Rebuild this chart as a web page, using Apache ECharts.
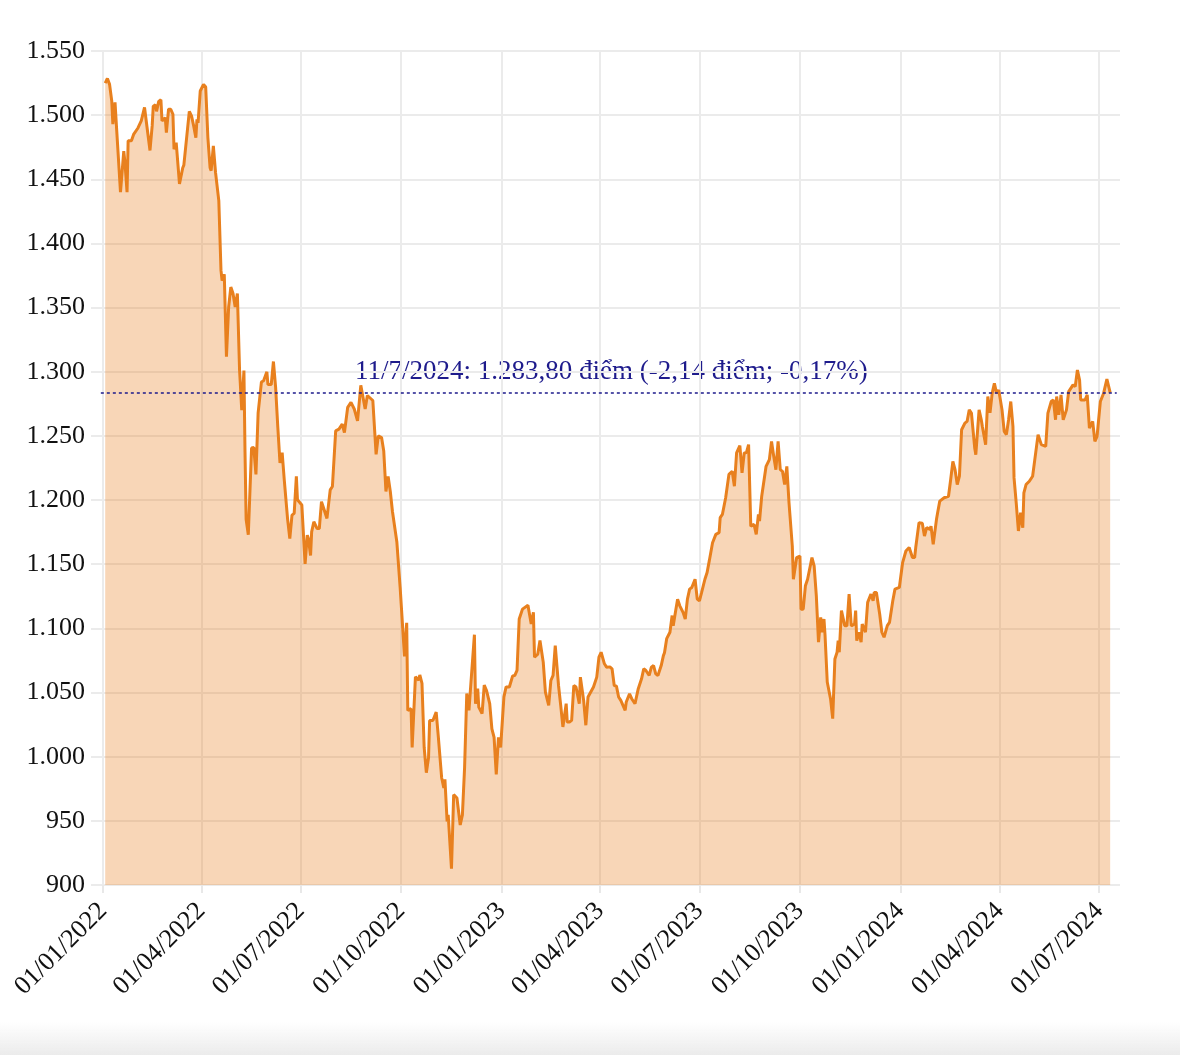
<!DOCTYPE html>
<html>
<head>
<meta charset="utf-8">
<script src="https://cdn.jsdelivr.net/npm/echarts@6/dist/echarts.min.js"></script>
<style>
  html, body { margin: 0; padding: 0; background: #fff; }
  #chart { width: 1180px; height: 1055px; }
</style>
</head>
<body>
<div id="chart"></div>
<script>
// VN-Index, 01/2022 - 07/2024
const dates = [
  '2022-01-03','2022-01-05','2022-01-07','2022-01-09','2022-01-10','2022-01-12','2022-01-13','2022-01-14','2022-01-17','2022-01-20',
  '2022-01-21','2022-01-23','2022-01-24','2022-01-27','2022-01-29','2022-02-02','2022-02-05','2022-02-08','2022-02-09','2022-02-13',
  '2022-02-15','2022-02-16','2022-02-18','2022-02-19','2022-02-21','2022-02-23','2022-02-24','2022-02-25','2022-02-27','2022-02-28',
  '2022-03-02','2022-03-04','2022-03-06','2022-03-07','2022-03-09','2022-03-12','2022-03-15','2022-03-16','2022-03-21','2022-03-23',
  '2022-03-25','2022-03-27','2022-03-28','2022-03-29','2022-03-31','2022-04-03','2022-04-05','2022-04-07','2022-04-09','2022-04-10',
  '2022-04-12','2022-04-14','2022-04-17','2022-04-19','2022-04-20','2022-04-22','2022-04-24','2022-04-26','2022-04-28','2022-04-30',
  '2022-05-02','2022-05-04','2022-05-06','2022-05-08','2022-05-10','2022-05-11','2022-05-12','2022-05-14','2022-05-17','2022-05-19',
  '2022-05-21','2022-05-23','2022-05-26','2022-05-28','2022-05-31','2022-06-01','2022-06-04','2022-06-06','2022-06-08','2022-06-10',
  '2022-06-12','2022-06-14','2022-06-16','2022-06-19','2022-06-21','2022-06-23','2022-06-25','2022-06-27','2022-06-28','2022-07-02',
  '2022-07-05','2022-07-07','2022-07-08','2022-07-10','2022-07-11','2022-07-13','2022-07-16','2022-07-18','2022-07-20','2022-07-22',
  '2022-07-25','2022-07-28','2022-07-30','2022-08-02','2022-08-05','2022-08-08','2022-08-10','2022-08-13','2022-08-16','2022-08-19',
  '2022-08-22','2022-08-25','2022-08-27','2022-08-29','2022-08-31','2022-09-05','2022-09-06','2022-09-08','2022-09-10','2022-09-13',
  '2022-09-15','2022-09-17','2022-09-19','2022-09-21','2022-09-23','2022-09-27','2022-09-30','2022-10-01','2022-10-04','2022-10-06',
  '2022-10-07','2022-10-10','2022-10-11','2022-10-14','2022-10-17','2022-10-18','2022-10-20','2022-10-22','2022-10-24','2022-10-26',
  '2022-10-27','2022-10-30','2022-11-02','2022-11-04','2022-11-07','2022-11-09','2022-11-10','2022-11-12','2022-11-13','2022-11-16',
  '2022-11-18','2022-11-21','2022-11-24','2022-11-26','2022-11-28','2022-11-30','2022-12-02','2022-12-07','2022-12-08','2022-12-10',
  '2022-12-11','2022-12-14','2022-12-16','2022-12-18','2022-12-21','2022-12-23','2022-12-25','2022-12-27','2022-12-29','2022-12-31',
  '2023-01-03','2023-01-05','2023-01-08','2023-01-11','2023-01-13','2023-01-15','2023-01-17','2023-01-20','2023-01-25','2023-01-26',
  '2023-01-28','2023-01-30','2023-01-31','2023-02-03','2023-02-05','2023-02-08','2023-02-10','2023-02-13','2023-02-15','2023-02-17',
  '2023-02-19','2023-02-22','2023-02-24','2023-02-26','2023-02-27','2023-03-01','2023-03-02','2023-03-04','2023-03-06','2023-03-08',
  '2023-03-10','2023-03-13','2023-03-14','2023-03-17','2023-03-19','2023-03-21','2023-03-26','2023-03-29','2023-03-31','2023-04-02',
  '2023-04-05','2023-04-07','2023-04-10','2023-04-12','2023-04-14','2023-04-16','2023-04-18','2023-04-20','2023-04-24','2023-04-25',
  '2023-04-28','2023-04-30','2023-05-03','2023-05-06','2023-05-09','2023-05-11','2023-05-13','2023-05-16','2023-05-18','2023-05-20',
  '2023-05-22','2023-05-24','2023-05-27','2023-05-29','2023-05-30','2023-06-01','2023-06-04','2023-06-06','2023-06-07','2023-06-09',
  '2023-06-11','2023-06-13','2023-06-16','2023-06-18','2023-06-20','2023-06-22','2023-06-24','2023-06-27','2023-06-29','2023-07-01',
  '2023-07-03','2023-07-04','2023-07-06','2023-07-08','2023-07-10','2023-07-13','2023-07-16','2023-07-19','2023-07-20','2023-07-22',
  '2023-07-25','2023-07-28','2023-07-31','2023-08-02','2023-08-04','2023-08-07','2023-08-09','2023-08-11','2023-08-13','2023-08-15',
  '2023-08-17','2023-08-20','2023-08-22','2023-08-24','2023-08-25','2023-08-27','2023-08-31','2023-09-03','2023-09-05','2023-09-07',
  '2023-09-09','2023-09-11','2023-09-13','2023-09-15','2023-09-17','2023-09-19','2023-09-21','2023-09-24','2023-09-25','2023-09-28',
  '2023-10-01','2023-10-02','2023-10-04','2023-10-06','2023-10-08','2023-10-12','2023-10-14','2023-10-16','2023-10-18','2023-10-20',
  '2023-10-21','2023-10-23','2023-10-24','2023-10-26','2023-10-27','2023-10-29','2023-10-31','2023-11-02','2023-11-04','2023-11-05',
  '2023-11-06','2023-11-08','2023-11-09','2023-11-11','2023-11-13','2023-11-15','2023-11-17','2023-11-20','2023-11-21','2023-11-22',
  '2023-11-24','2023-11-26','2023-11-27','2023-11-30','2023-12-02','2023-12-05','2023-12-07','2023-12-08','2023-12-10','2023-12-13',
  '2023-12-15','2023-12-17','2023-12-20','2023-12-22','2023-12-25','2023-12-27','2023-12-31','2024-01-03','2024-01-06','2024-01-09',
  '2024-01-12','2024-01-14','2024-01-15','2024-01-18','2024-01-21','2024-01-23','2024-01-25','2024-01-28','2024-01-29','2024-01-31',
  '2024-02-03','2024-02-04','2024-02-06','2024-02-10','2024-02-14','2024-02-16','2024-02-18','2024-02-20','2024-02-22','2024-02-24',
  '2024-02-26','2024-02-29','2024-03-02','2024-03-04','2024-03-06','2024-03-09','2024-03-10','2024-03-13','2024-03-15','2024-03-16',
  '2024-03-19','2024-03-21','2024-03-23','2024-03-25','2024-03-27','2024-03-29','2024-03-31','2024-04-03','2024-04-05','2024-04-07',
  '2024-04-09','2024-04-11','2024-04-13','2024-04-14','2024-04-16','2024-04-18','2024-04-20','2024-04-22','2024-04-23','2024-04-25',
  '2024-04-28','2024-05-01','2024-05-03','2024-05-06','2024-05-09','2024-05-13','2024-05-15','2024-05-18','2024-05-20','2024-05-22',
  '2024-05-23','2024-05-25','2024-05-27','2024-05-29','2024-06-01','2024-06-03','2024-06-07','2024-06-09','2024-06-11','2024-06-13',
  '2024-06-14','2024-06-18','2024-06-20','2024-06-22','2024-06-25','2024-06-27','2024-06-29','2024-07-02','2024-07-05','2024-07-08',
  '2024-07-11'
]
const values = [
  1525, 1528.6, 1524, 1511, 1493, 1510, 1495.5, 1494, 1440, 1472,
  1464, 1440, 1480, 1480, 1485, 1490, 1495.5, 1506, 1505, 1472.5,
  1491.6, 1507, 1508, 1503, 1510.7, 1512, 1495.5, 1494, 1498, 1486.4,
  1504.6, 1504.6, 1500.7, 1473.5, 1478.6, 1446.4, 1459, 1461, 1503, 1499.4,
  1491.6, 1482.5, 1496.8, 1494, 1518.8, 1524, 1521.9, 1482.5, 1459, 1456.7,
  1476, 1455.4, 1433.4, 1379, 1371, 1376, 1311.7, 1350.5, 1366, 1361,
  1350.5, 1361, 1301.4, 1270, 1301, 1237, 1185, 1173, 1240.6, 1241,
  1220, 1268, 1292, 1293, 1300, 1290, 1290, 1308, 1288, 1257,
  1229, 1237, 1215, 1185, 1170, 1188.3, 1189.6, 1218.5, 1200.2, 1196.2,
  1150.2, 1172.6, 1170, 1156.8, 1175.2, 1183.1, 1177.8, 1177.8, 1198.8, 1193.6,
  1185.7, 1208, 1210.6, 1254, 1255.3, 1259.2, 1252.6, 1272.3, 1276.2, 1271,
  1261.8, 1289.4, 1280.2, 1271, 1281.5, 1277.6, 1277.6, 1235.6, 1250, 1248.7,
  1238.2, 1206.7, 1218.5, 1206.7, 1190.9, 1167.3, 1131.9, 1130.6, 1078.1, 1104.3,
  1036.1, 1037.4, 1007.2, 1062.3, 1059.7, 1063.7, 1057.1, 1007.2, 987.5, 999.3,
  1028.2, 1028.2, 1034.8, 1015.1, 983.6, 975.7, 982.3, 949.5, 954.7, 912.7,
  970.4, 967.8, 946.8, 954.7, 991.5, 1049.2, 1036.1, 1095.1, 1041.3, 1053.1,
  1038.7, 1033.5, 1055.7, 1051.8, 1041.3, 1021.7, 1015.1, 986.2, 1015.1, 1007.2,
  1046.6, 1054.4, 1054.3, 1063, 1063.3, 1067.2, 1107.3, 1115, 1118, 1118,
  1103.4, 1112.5, 1077.6, 1080, 1090.5, 1073.7, 1050.4, 1040, 1059.4, 1063.3,
  1086.5, 1055.5, 1040, 1023.2, 1024, 1041.3, 1027, 1027, 1028.3, 1055.5,
  1054.3, 1041.3, 1062, 1043.9, 1024.5, 1046.5, 1054.3, 1062, 1077.6, 1081.4,
  1072.4, 1069.8, 1070, 1068.5, 1055.5, 1055, 1046.5, 1043.9, 1036.1, 1042.6,
  1049, 1045.2, 1041.3, 1053, 1060.7, 1068.5, 1067.2, 1063.3, 1069.8, 1071,
  1064.6, 1063.3, 1071, 1078.8, 1081, 1092, 1097, 1110, 1102, 1112.5,
  1122.8, 1117.6, 1112.5, 1107.3, 1122.8, 1130.6, 1131.9, 1138.3, 1122.8, 1121.5,
  1128, 1127, 1138.3, 1143.6, 1152.6, 1166.8, 1173.3, 1174.6, 1186.3, 1188.8,
  1201.8, 1220, 1222.4, 1210.8, 1236.7, 1242.4, 1221.2, 1236.7, 1237, 1243.2,
  1179.7, 1181, 1173.3, 1188.8, 1183.6, 1203, 1226.3, 1231.5, 1245.7, 1234.1,
  1223.7, 1245.7, 1223.7, 1222.4, 1212.1, 1226.3, 1197.9, 1164.2, 1138.3, 1155.2,
  1156.4, 1115, 1115, 1133.2, 1138.3, 1155.2, 1148.7, 1125.4, 1089.2, 1108.6,
  1097, 1107.3, 1094.3, 1058.2, 1058, 1045.2, 1029.7, 1076.2, 1081.4, 1090.5,
  1081.4, 1113.8, 1114, 1102.1, 1102, 1126.7, 1102, 1103.4, 1113.8, 1090.5,
  1097, 1089.2, 1103.4, 1097, 1120.3, 1126.7, 1121.5, 1128, 1128, 1111.2,
  1097, 1093.1, 1102.1, 1104.7, 1121.5, 1130.6, 1131.9, 1151.3, 1160.3, 1163,
  1155.2, 1155.2, 1163, 1182.4, 1182, 1172, 1178.5, 1177.2, 1179.7, 1165.5,
  1185, 1190, 1199.2, 1201.8, 1203, 1216, 1230.2, 1223.7, 1212.1, 1218.6,
  1254.8, 1260, 1261.3, 1270.3, 1267.8, 1240.6, 1235.4, 1270.3, 1262.6, 1257.4,
  1243.2, 1280.7, 1268, 1283.3, 1291, 1283.3, 1285.8, 1270.3, 1253.5, 1251,
  1262.6, 1276.8, 1257.4, 1217.3, 1197.9, 1175.9, 1190.1, 1178.5, 1205.7, 1212.1,
  1214.7, 1218.6, 1231.5, 1251, 1243.2, 1241.9, 1267.8, 1276.8, 1278.1, 1262.6,
  1280.7, 1266.5, 1282, 1262.6, 1270.3, 1284.5, 1289.8, 1288.4, 1301.4, 1293.6,
  1278, 1278, 1282, 1256.1, 1261.3, 1245.7, 1249.6, 1276.8, 1283.3, 1294.2,
  1283.8
]

const tickDates = ['2022-01-01', '2022-04-01', '2022-07-01', '2022-10-01', '2023-01-01', '2023-04-01',
  '2023-07-01', '2023-10-01', '2024-01-01', '2024-04-01', '2024-07-01']
const xMin = '2021-12-21'
const xMax = '2024-07-20'
const yMin = 900
const yMax = 1550
const yStep = 50

const refValue = 1283.8
const refStart = '2021-12-30'
const refEnd = '2024-07-17'
const refText = '11/7/2024: 1.283,80 điểm (-2,14 điểm; -0,17%)'

const FONT = 'Liberation Serif'

function toTs(s) {
  const p = s.split('-').map(Number)
  return new Date(p[0], p[1] - 1, p[2]).getTime()
}
function pad(n) {
  return (n < 10 ? '0' : '') + n
}
function fmtThousands(v) {
  return String(v).replace(/\B(?=(\d{3})+(?!\d))/g, '.')
}

const tickTs = tickDates.map(toTs)
const seriesData = dates.map((d, i) => [toTs(d), values[i]])

const myChart = echarts.init(document.getElementById('chart'))
myChart.setOption({
  animation: false,
  grid: {
    left: 91,
    right: 60,
    top: 51,
    bottom: 170
  },
  xAxis: {
    // trục số theo mốc thời gian (ms), nhãn đặt tại đầu mỗi quý
    type: 'value',
    min: toTs(xMin),
    max: toTs(xMax),
    axisLine: { show: false },
    axisTick: {
      show: true,
      customValues: tickTs,
      length: 8,
      lineStyle: { color: '#e8e8e8', width: 2 }
    },
    axisLabel: {
      customValues: tickTs,
      rotate: 45,
      margin: 22,
      fontSize: 26,
      fontFamily: FONT,
      color: '#111',
      formatter: function (v) {
        const d = new Date(v)
        return pad(d.getDate()) + '/' + pad(d.getMonth() + 1) + '/' + d.getFullYear()
      }
    },
    splitLine: {
      show: true,
      lineStyle: { color: '#ebebeb', width: 2 }
    }
  },
  yAxis: {
    type: 'value',
    min: yMin,
    max: yMax,
    interval: yStep,
    axisLine: { show: false },
    axisTick: { show: false },
    axisLabel: {
      margin: 6,
      fontSize: 26,
      fontFamily: FONT,
      color: '#111',
      formatter: fmtThousands
    },
    splitLine: {
      lineStyle: { color: '#ebebeb', width: 2 }
    }
  },
  series: [
    {
      type: 'line',
      data: seriesData,
      showSymbol: false,
      lineStyle: { color: '#e8801e', width: 3 },
      itemStyle: { color: '#e8801e' },
      areaStyle: { color: '#e8801e', opacity: 0.32 },
      markLine: {
        silent: true,
        symbol: 'none',
        label: { show: false },
        lineStyle: { color: '#1e1b8c', width: 1.5, type: [3, 3] },
        data: [[
          { coord: [toTs(refStart), refValue] },
          { coord: [toTs(refEnd), refValue] }
        ]]
      }
    }
  ],
  graphic: [
    {
      type: 'text',
      left: 355,
      top: 358,
      style: {
        text: refText,
        fontSize: 27,
        fontFamily: FONT,
        fill: '#1e1b8c'
      }
    },
    {
      type: 'rect',
      shape: { x: 0, y: 1022, width: 1180, height: 33 },
      style: {
        fill: new echarts.graphic.LinearGradient(0, 0, 0, 1, [
          { offset: 0, color: 'rgba(236,236,236,0)' },
          { offset: 1, color: '#ebebeb' }
        ])
      },
      silent: true
    }
  ]
})
</script>
</body>
</html>
